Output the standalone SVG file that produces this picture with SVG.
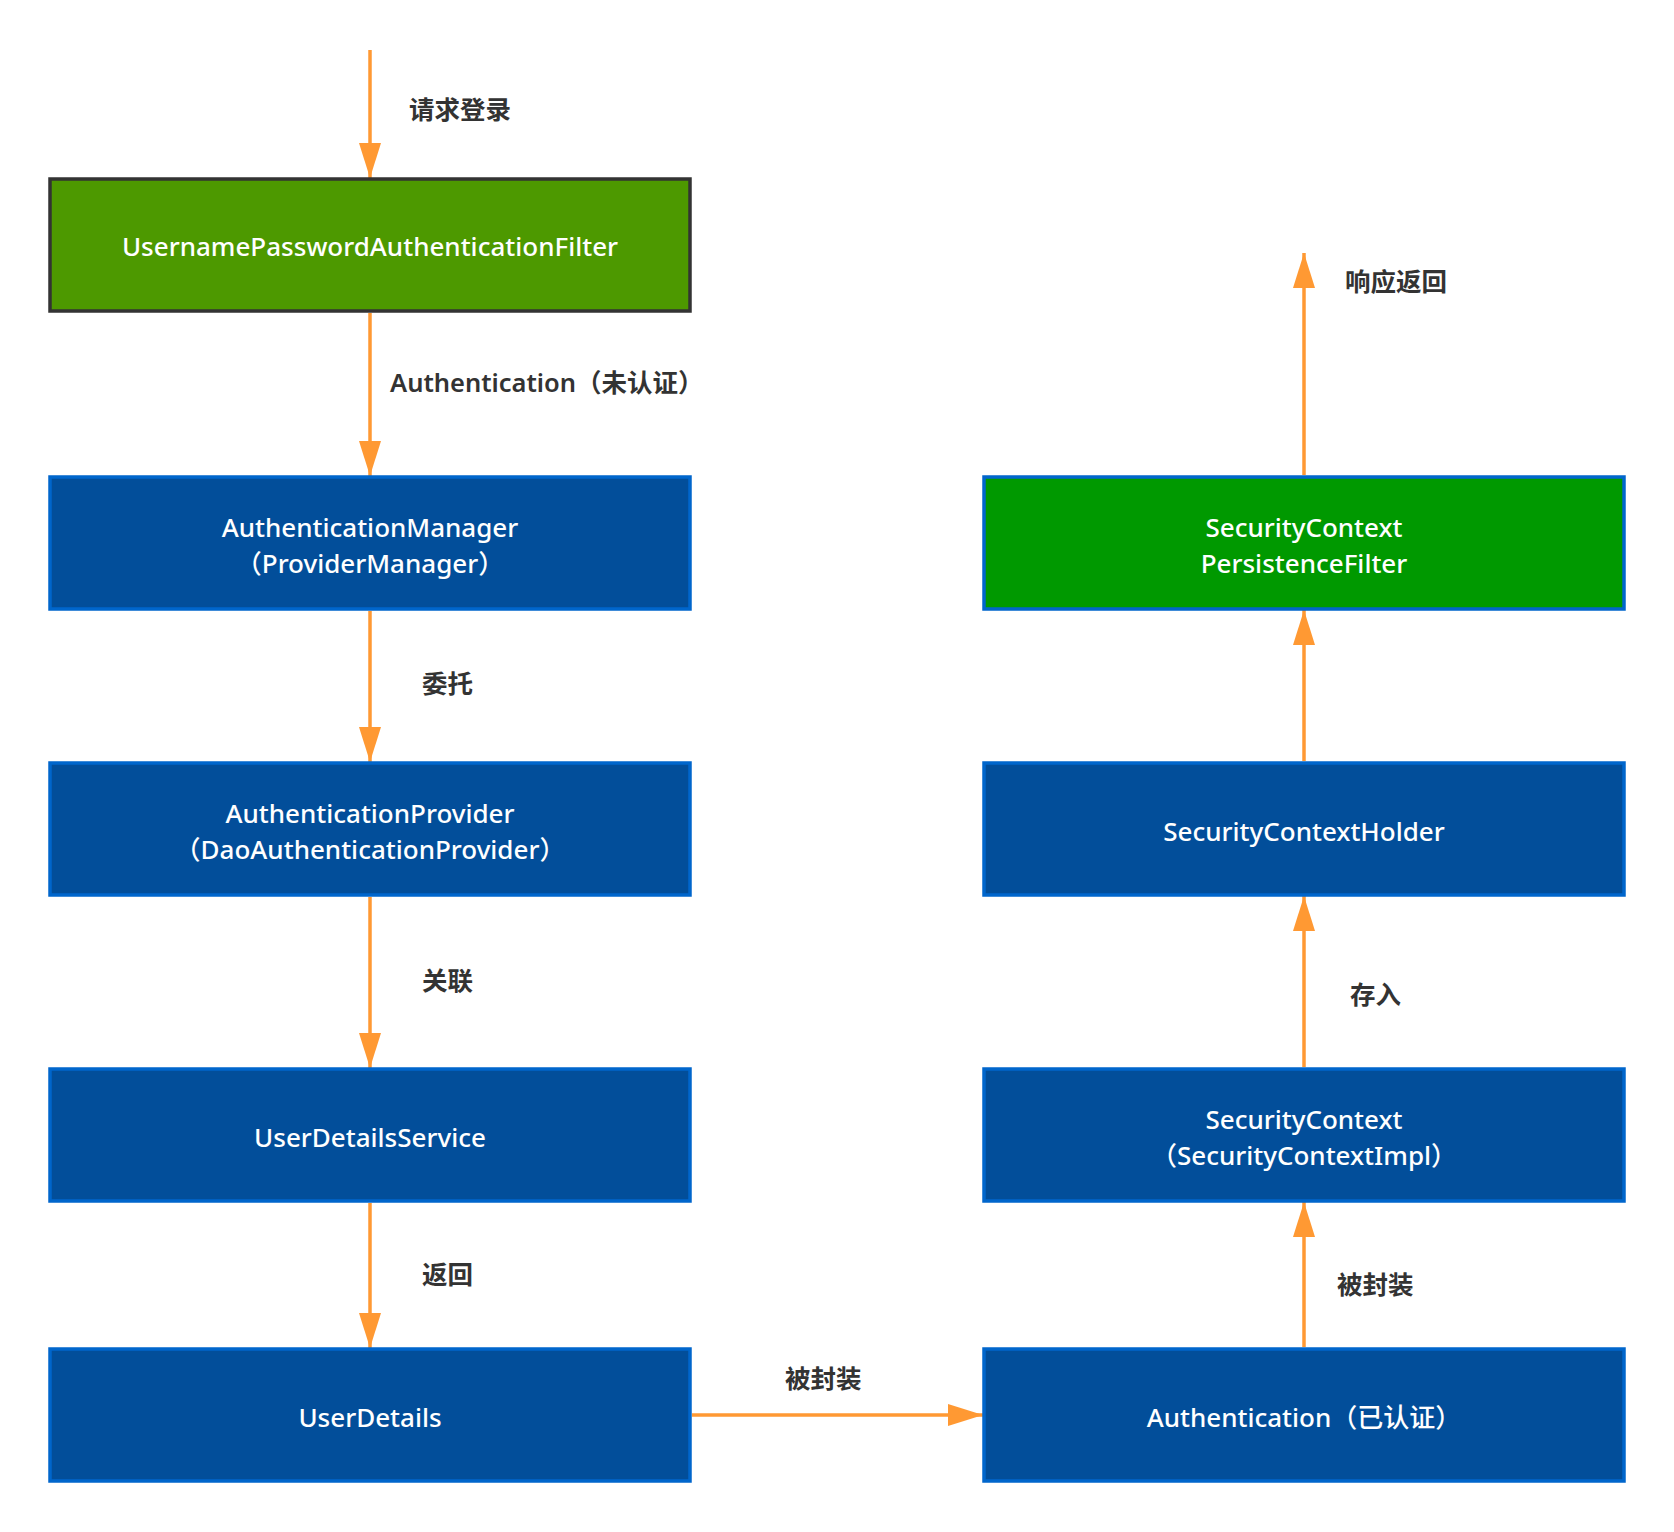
<svg xmlns="http://www.w3.org/2000/svg" width="1674" height="1532" viewBox="0 0 1674 1532">
<defs>
<style>
.box{fill:#024e9a;stroke:#0066cc;stroke-width:3.5}
.green{fill:#4d9900;stroke:#333333;stroke-width:3.5}
.green2{fill:#009900;stroke:#0066cc;stroke-width:3.5}
.t{font-family:"Noto Sans","Noto Sans CJK SC",sans-serif;font-size:26px;font-weight:500;fill:#ffffff;text-anchor:middle;dominant-baseline:central}
.lbl{font-family:"Noto Sans","Noto Sans CJK SC",sans-serif;font-size:25.5px;font-weight:600;fill:#333333;dominant-baseline:central}
.edge{stroke:#ff9933;stroke-width:3.5;fill:none;marker-end:url(#arr)}
</style>
<marker id="arr" markerUnits="userSpaceOnUse" markerWidth="36" markerHeight="24" refX="35" refY="11" orient="auto">
<path d="M0,0 L35,11 L0,22 Z" fill="#ff9933"/>
</marker>
</defs>
<rect width="1674" height="1532" fill="#ffffff"/>
<g id="connectors">
<path class="edge" d="M370,50 V178"/>
<path class="edge" d="M370,313 V476"/>
<path class="edge" d="M370,611 V762"/>
<path class="edge" d="M370,897 V1068"/>
<path class="edge" d="M370,1203 V1348"/>
<path class="edge" d="M692,1415 H983"/>
<path class="edge" d="M1304,1347 V1202"/>
<path class="edge" d="M1304,1067 V896"/>
<path class="edge" d="M1304,761 V610"/>
<path class="edge" d="M1304,475 V253"/>
<text class="lbl" x="409" y="109">请求登录</text>
<text class="lbl" x="390" y="382">Authentication（未认证）</text>
<text class="lbl" x="422" y="683">委托</text>
<text class="lbl" x="422" y="980">关联</text>
<text class="lbl" x="422" y="1274">返回</text>
<text class="lbl" x="785" y="1378">被封装</text>
<text class="lbl" x="1337" y="1284">被封装</text>
<text class="lbl" x="1350" y="994">存入</text>
<text class="lbl" x="1345" y="281">响应返回</text>
</g>
<g id="filter">
<rect class="green" x="50" y="179" width="640" height="132"/>
<text class="t" x="370" y="246">UsernamePasswordAuthenticationFilter</text>
</g>
<g id="manager">
<rect class="box" x="50" y="477" width="640" height="132"/>
<text class="t" x="370" y="527">AuthenticationManager</text>
<text class="t" x="370" y="563">（ProviderManager）</text>
</g>
<g id="provider">
<rect class="box" x="50" y="763" width="640" height="132"/>
<text class="t" x="370" y="813">AuthenticationProvider</text>
<text class="t" x="370" y="849">（DaoAuthenticationProvider）</text>
</g>
<g id="uds">
<rect class="box" x="50" y="1069" width="640" height="132"/>
<text class="t" x="370" y="1137">UserDetailsService</text>
</g>
<g id="userdetails">
<rect class="box" x="50" y="1349" width="640" height="132"/>
<text class="t" x="370" y="1417">UserDetails</text>
</g>
<g id="scpf">
<rect class="green2" x="984" y="477" width="640" height="132"/>
<text class="t" x="1304" y="527">SecurityContext</text>
<text class="t" x="1304" y="563">PersistenceFilter</text>
</g>
<g id="sch">
<rect class="box" x="984" y="763" width="640" height="132"/>
<text class="t" x="1304" y="831">SecurityContextHolder</text>
</g>
<g id="sc">
<rect class="box" x="984" y="1069" width="640" height="132"/>
<text class="t" x="1304" y="1119">SecurityContext</text>
<text class="t" x="1304" y="1155">（SecurityContextImpl）</text>
</g>
<g id="auth">
<rect class="box" x="984" y="1349" width="640" height="132"/>
<text class="t" x="1304" y="1417">Authentication（已认证）</text>
</g>
</svg>
